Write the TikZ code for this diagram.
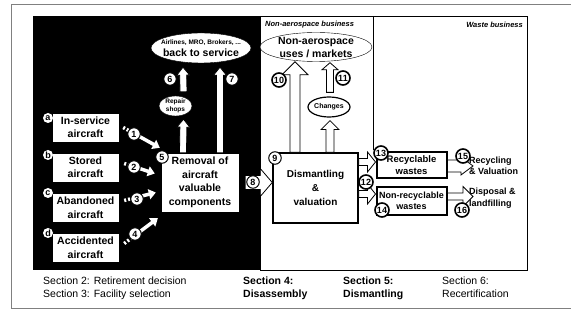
\documentclass[tikz,border=0pt]{standalone}
\usepackage{fontspec}
\setmainfont{Liberation Sans}
\usetikzlibrary{calc,shapes.geometric,arrows.meta}
% block arrow: tail, tip, shaft half width, head half width, head length
\newcommand{\blockarrow}[5]{
    \path ($(#2)!#5!(#1)$) coordinate (fa-b);
    \filldraw[blockarr] ($(#1)!#3!90:(#2)$) -- ($(fa-b)!#3!-90:(#1)$) -- ($(fa-b)!#4!-90:(#1)$) -- (#2)
        -- ($(fa-b)!#4!90:(#1)$) -- ($(fa-b)!#3!90:(#1)$) -- ($(#1)!#3!-90:(#2)$) -- cycle;
}

\begin{document}
\begin{tikzpicture}[x=1pt, y=-1pt,
    box/.style={draw=black, fill=white, inner sep=1pt, align=center,
        font=\bfseries\fontsize{10.5}{13.5}\selectfont},
    oval/.style={ellipse, draw=black, fill=white, inner sep=0pt},
    ovaltxt/.style={align=center, inner sep=0pt, font=\bfseries#1},
    num/.style={circle, draw=black, fill=white, line width=1pt, inner sep=0pt,
        minimum size=12.5pt, font=\bfseries\fontsize{9}{9}\selectfont},
    bignum/.style={num, line width=1.6pt, minimum size=14pt},
    lett/.style={circle, fill=white, inner sep=0pt, minimum size=10pt,
        font=\bfseries\fontsize{9}{9}\selectfont},
    sect/.style={anchor=north west, align=left, inner sep=0pt, font=\fontsize{10.5}{13}\selectfont},
    zone/.style={inner sep=0pt, font=\bfseries\itshape\fontsize{7.5}{7.5}\selectfont},
    blockarr/.style={fill=white, draw=black, line width=0.8pt, line join=miter},
    dasharr/.style={white, line width=3.5pt, dash pattern=on 2pt off 2pt on 2pt off 2pt on 80pt,
        -{Triangle[width=10pt,length=7pt]}}
]
\useasboundingbox (0,0) rectangle (571,320);
\fill[white] (0,0) rectangle (571,320);
\draw[gray, line width=1pt] (11,5) rectangle (590,309);

% panels
\fill[black] (33,16) rectangle (260,270);
\draw[line width=0.8pt] (260,16) rectangle (527,270);
\draw[line width=0.8pt] (373,16) -- (373,150);
\node[zone, anchor=west] (nab) at (265,25) {Non-aerospace business};
\node[zone, anchor=east] (wab) at (523,25) {Waste business};

% aircraft
\node[box, minimum width=67pt, minimum height=29pt] (ina) at (85.5,127.5) {In-service\\aircraft};
\node[box, minimum width=67pt, minimum height=29pt] (stb) at (85.5,167.5) {Stored\\aircraft};
\node[box, minimum width=67pt, minimum height=29pt] (abd) at (85.5,207.5) {Abandoned\\aircraft};
\node[box, minimum width=67pt, minimum height=29pt] (acc) at (85.5,247.5) {Accidented\\aircraft};

\node[box, minimum width=78pt, minimum height=59pt] (removal) at (200,182.5) {Removal of\\aircraft\\valuable\\components};
\node[box, line width=1.5pt, minimum width=85pt, minimum height=70pt,
    font=\bfseries\fontsize{10}{14}\selectfont] (dis) at (315.5,188) {Dismantling\\\&\\valuation};
\node[box, line width=2pt, minimum width=70pt, minimum height=26pt,
    font=\bfseries\fontsize{9.5}{11.5}\selectfont] (rec) at (411.5,165) {Recyclable\\wastes};
\node[box, line width=2pt, minimum width=70pt, minimum height=28pt,
    font=\bfseries\fontsize{9}{11.5}\selectfont] (nrec) at (411.5,201) {Non-recyclable\\wastes};

\node[anchor=west, align=left, inner sep=0pt, font=\bfseries\fontsize{9}{11.5}\selectfont] (recy) at (469,166) {Recycling\\\& Valuation};
\node[anchor=west, align=left, inner sep=0pt, font=\bfseries\fontsize{9}{11.5}\selectfont] (disp) at (469,198) {Disposal \&\\landfilling};

% ellipses
\node[oval, minimum width=100pt, minimum height=30pt,
    label={[ovaltxt=\fontsize{10.5}{12}\selectfont]center:{{\fontsize{6.5}{8}\selectfont Airlines, MRO, Brokers, ...}\\back to service}}] (back) at (201,48) {};
\node[oval, minimum width=112pt, minimum height=29pt,
    label={[ovaltxt=\fontsize{10.5}{13}\selectfont]center:{Non-aerospace\\uses / markets}}] (nonaero) at (316,47) {};
\node[oval, minimum width=33pt, minimum height=20pt,
    label={[ovaltxt=\fontsize{6.5}{7.5}\selectfont]center:{Repair\\shops}}] (repair) at (175.5,106) {};
\node[oval, line width=1.2pt, minimum width=42pt, minimum height=20pt,
    label={[ovaltxt=\fontsize{7}{8}\selectfont]center:Changes}] (changes) at (329,107) {};

% arrow ends
\coordinate (r6) at ($(removal.north)+(-17,0)$);
\coordinate (p6) at ($(repair.south)+(8,3)$);
\coordinate (s6) at ($(repair.north)+(8,-4)$);
\coordinate (b6) at ($(back.south)+(-18,4)$);
\coordinate (r7) at ($(removal.north)+(20,0)$);
\coordinate (b7) at ($(back.south)+(19,4)$);
\coordinate (e8) at ($(removal.east)+(6,0)$);
\coordinate (w8) at (dis.west |- removal.east);
\coordinate (d10) at ($(dis.north)+(-20.5,0)$);
\coordinate (m10) at ($(nonaero.south)+(-21,0)$);
\coordinate (d11) at ($(dis.north)+(14.5,0)$);
\coordinate (c11) at ($(changes.south)+(1,3)$);
\coordinate (t11) at ($(changes.north)+(1,-4)$);
\coordinate (m11) at ($(nonaero.south)+(14,1)$);
\coordinate (u12) at ($(dis.east)+(0,-26)$);
\coordinate (v12) at (rec.west |- u12);
\coordinate (u14) at ($(dis.east)+(0,6)$);
\coordinate (v14) at (nrec.west |- u14);
\coordinate (u15) at ($(rec.east)+(0,1)$);
\coordinate (v15) at ($(recy.west |- u15)+(4,0)$);
\coordinate (u16) at ($(nrec.east)+(0,-4.5)$);
\coordinate (v16) at ($(disp.west |- u16)+(4,0)$);

\blockarrow{r6}{p6}{3.5pt}{6.5pt}{8pt}
\blockarrow{s6}{b6}{3.5pt}{6.5pt}{8pt}
\blockarrow{r7}{b7}{3.5pt}{6.5pt}{8pt}
\blockarrow{e8}{w8}{7pt}{14pt}{12pt}
\blockarrow{d10}{m10}{5pt}{13pt}{13pt}
\blockarrow{d11}{c11}{4pt}{9pt}{9pt}
\blockarrow{t11}{m11}{3.5pt}{8pt}{7pt}
\blockarrow{u12}{v12}{3.5pt}{10pt}{8pt}
\blockarrow{u14}{v14}{3.5pt}{10pt}{8pt}
\blockarrow{u15}{v15}{6pt}{9pt}{12pt}
\blockarrow{u16}{v16}{3.5pt}{10pt}{10pt}

\coordinate (t1) at ($(ina.east)+(4,0)$);
\coordinate (h1) at ($(removal.north west)+(-1,-5)$);
\coordinate (t2) at ($(stb.east)+(5,-4)$);
\coordinate (h2) at ($(removal.west)+(-6,-9)$);
\coordinate (t3) at ($(abd.east)+(5,-7)$);
\coordinate (h3) at ($(removal.west)+(-5,10)$);
\coordinate (t4) at ($(acc.east)+(5,-4)$);
\coordinate (h4) at ($(removal.south west)+(-3,6)$);
\draw[dasharr] (t1) -- (h1);
\draw[dasharr] (t2) -- (h2);
\draw[dasharr] (t3) -- (h3);
\draw[dasharr] (t4) -- (h4);

% numbers
\node[lett] (la) at (48,118) {a};
\node[lett] (lb) at (48,155) {b};
\node[lett] (lc) at (48,193) {c};
\node[lett] (ld) at (48,233) {d};
\node[num] (n1) at (134,134) {1};
\node[num] (n2) at (134,167) {2};
\node[num] (n3) at (137,199) {3};
\node[num] (n4) at (135,234) {4};
\node[num] (n5) at (162,157) {5};
\node[num] (n6) at (170,79) {6};
\node[num] (n7) at (232,79) {7};
\node[num] (n8) at (253,182) {8};
\node[num] (n9) at (275,158) {9};
\node[bignum] (n10) at (279,80) {10};
\node[bignum] (n11) at (343,78) {11};
\node[bignum] (n12) at (366,182) {12};
\node[bignum] (n13) at (381,153) {13};
\node[bignum] (n14) at (382,210) {14};
\node[bignum] (n15) at (463,156) {15};
\node[bignum] (n16) at (462,210) {16};

% sections
\node[sect] (s2) at (43,277) {Section 2: Retirement decision\\Section 3: Facility selection};
\node[sect, font=\bfseries\fontsize{10.5}{13}\selectfont] (s4) at (243,277) {Section 4:\\Disassembly};
\node[sect, font=\bfseries\fontsize{10.5}{13}\selectfont] (s5) at (343,277) {Section 5:\\Dismantling};
\node[sect] (s6) at (442,277) {Section 6:\\Recertification};
\end{tikzpicture}
\end{document}
